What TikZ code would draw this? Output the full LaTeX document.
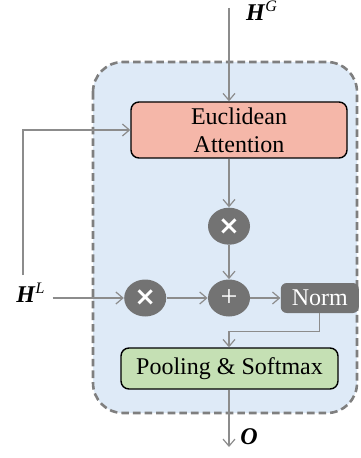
\documentclass[tikz,border=0pt]{standalone}
\usepackage{fontspec}
\setmainfont{Liberation Serif}
\newfontfamily\symbfont{DejaVu Sans}
\usetikzlibrary{shapes.geometric, positioning, arrows.meta}

\definecolor{fondbleu}{HTML}{DEEAF7}
\definecolor{bordgris}{HTML}{7F7F7F}
\definecolor{saumon}{HTML}{F5B7A9}
\definecolor{vertpale}{HTML}{C5E0B4}
\definecolor{grisop}{HTML}{737373}
\definecolor{grisfil}{HTML}{8C8C8C}

\begin{document}
\begin{tikzpicture}[
		x=0.5pt, y=-0.5pt,
		% Style des blocs principaux
		block/.style={
			fill=#1,
			draw=black,
			line width=0.7pt,
			rounded corners=4pt,
			font=\fontsize{12}{14}\selectfont,
			align=center,
			inner sep=2pt,
		},
		% Style des opérateurs (cercles gris)
		opnode/.style={
			ellipse,
			fill=grisop,
			draw=none,
			text=white,
			minimum width=21pt,
			minimum height=18.5pt,
			inner sep=0pt
		},
		% Style des connexions
		wire/.style={
			draw=grisfil,
			line width=0.6pt,
			-{Straight Barb[length=3.5pt,width=6pt]}
		},
		% Style des étiquettes d'entrée / sortie
		labelstyle/.style={
			font=\fontsize{12}{14}\selectfont,
			text=black
		}
		]
		\useasboundingbox (0,0) rectangle (360,458);
		
		% --- CADRE EN POINTILLÉS ---
		\draw[fill=fondbleu, draw=bordgris, line width=1.3pt, dash pattern=on 3.8pt off 2pt,
			rounded corners=15pt] (93,62) rectangle (357,413);
		
		% --- DÉFINITION DES BLOCS ---
		\node[block=saumon, minimum width=108pt, minimum height=28pt] (att) at (239,130) {Euclidean\\Attention};
		
		\node[opnode] (plus) at (229,298) {\fontsize{15}{15}\selectfont +};
		\node[opnode, above=17pt of plus] (mulT) {\symbfont\bfseries\fontsize{13}{13}\selectfont ×};
		\node[opnode, left=20.5pt of plus] (mulL) {\symbfont\bfseries\fontsize{13}{13}\selectfont ×};
		\node[right=15pt of plus, fill=grisop, text=white, rounded corners=3pt,
			minimum width=39pt, minimum height=15pt, inner sep=1pt,
			font=\fontsize{12}{14}\selectfont] (norm) {Norm};
		
		\node[block=vertpale, minimum width=108.5pt, minimum height=20.5pt] (pool) at (229.5,368.5) {Pooling \& Softmax};
		
		% --- ENTRÉES / SORTIE ---
		\node[labelstyle] (hg) at (262,11) {\textbf{\textit{H}}\textsuperscript{\textit{G}}};
		\node[labelstyle] (hl) at (31,293) {\textbf{\textit{H}}\textsuperscript{\textit{L}}};
		\node[labelstyle] (out) at (249,437) {\textbf{\textit{O}}};
		
		\coordinate (hgin) at (229,8);
		\coordinate (hlup) at (23,275);
		\coordinate (fin) at (229,447);
		
		% --- CONNEXIONS ---
		\draw[wire] (hgin) -- (att.north -| hgin);
		\draw[wire] (hlup) |- (att.west);
		\draw[wire] (hl.east |- mulL) -- (mulL);
		\draw[wire] (att.south -| mulT) -- (mulT);
		\draw[wire] (mulT) -- (plus);
		\draw[wire] (mulL) -- (plus);
		\draw[wire] (plus) -- (norm);
		\draw[wire] (norm.south) -- ++(0,18) -| (pool.north -| plus);
		\draw[wire] (pool.south -| plus) -- (fin);
		
	\end{tikzpicture}
\end{document}
